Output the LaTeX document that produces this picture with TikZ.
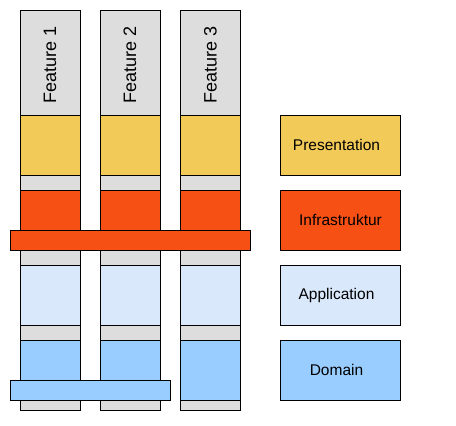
\documentclass[tikz,border=0pt]{standalone}
\usepackage{fontspec}
\setmainfont{Liberation Sans}
\usetikzlibrary{positioning}
\definecolor{laygray}{RGB}{221,221,221}
\definecolor{layyellow}{RGB}{242,202,88}
\definecolor{layorange}{RGB}{247,80,21}
\definecolor{laylight}{RGB}{218,232,252}
\definecolor{layblue}{RGB}{153,204,255}

\begin{document}
\begin{tikzpicture}[
    x=1pt, y=-1pt,
    layer/.style={rectangle, draw=black, line width=1pt, inner sep=0pt, outer sep=0pt,
                  minimum width=60pt, minimum height=60pt},
    column/.style={layer, fill=laygray, minimum height=400pt, anchor=north},
    feature/.style={rotate=90, font=\fontsize{18}{20}\selectfont},
    legend/.style={layer, minimum width=120pt, font=\fontsize{15.5}{18}\selectfont},
    bar/.style={layer, minimum height=20pt}
]
    \useasboundingbox (0,0) rectangle (456,426);

    % feature columns
    \node[column] (col1) at (50,10) {};
    \node[column] (col2) at (130,10) {};
    \node[column] (col3) at (210.5,10) {};
    \node[feature] (feat1) at (50,65) {Feature 1};
    \node[feature] (feat2) at (130,65) {Feature 2};
    \node[feature] (feat3) at (210.5,65) {Feature 3};

    % layers in every column
    \node[layer, fill=layyellow, below=105pt of col1.north] (pres1) {};
    \node[layer, fill=layorange, below=15pt of pres1] (infra1) {};
    \node[layer, fill=laylight, below=15pt of infra1] (app1) {};
    \node[layer, fill=layblue, below=15pt of app1] (dom1) {};

    \node[layer, fill=layyellow, below=105pt of col2.north] (pres2) {};
    \node[layer, fill=layorange, below=15pt of pres2] (infra2) {};
    \node[layer, fill=laylight, below=15pt of infra2] (app2) {};
    \node[layer, fill=layblue, below=15pt of app2] (dom2) {};

    \node[layer, fill=layyellow, below=105pt of col3.north] (pres3) {};
    \node[layer, fill=layorange, below=15pt of pres3] (infra3) {};
    \node[layer, fill=laylight, below=15pt of infra3] (app3) {};
    \node[layer, fill=layblue, below=15pt of app3] (dom3) {};

    % shared bars
    \node[bar, fill=layorange, minimum width=240pt] (infrabar) at (130,240) {};
    \node[bar, fill=layblue, minimum width=160pt] (dombar) at (90,390) {};

    % legend
    \node[legend, fill=layyellow, right=40pt of pres3] (lpres) {Presentation\hspace*{8pt}};
    \node[legend, fill=layorange, right=40pt of infra3] (linfra) {Infrastruktur};
    \node[legend, fill=laylight, right=40pt of app3] (lapp) {Application\hspace*{8pt}};
    \node[legend, fill=layblue, right=40pt of dom3] (ldom) {Domain\hspace*{8pt}};
\end{tikzpicture}
\end{document}
